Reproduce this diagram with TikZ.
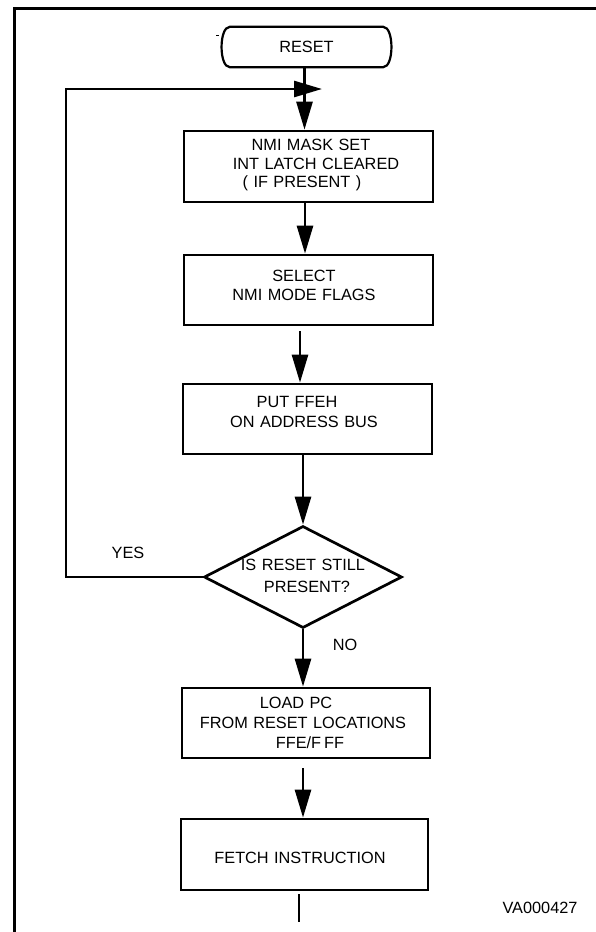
\documentclass[tikz,border=0pt]{standalone}
\usepackage{fontspec}
\setmainfont{Liberation Sans}
\usetikzlibrary{arrows.meta,shapes.geometric}
\begin{document}
\begin{tikzpicture}[x=1pt,y=-1pt,
  ln/.style={line width=2.7pt},
  arr/.style={ln,-{Triangle[length=28pt,width=16pt]}},
  box/.style={draw,line width=2.7pt,rectangle,inner sep=0pt,minimum width=249pt,minimum height=71pt},
  txt/.style={inner sep=0pt,align=center,text width=240pt,font=\fontsize{16.3}{19.5}\selectfont},
  lbl/.style={inner sep=0pt,font=\fontsize{16.3}{19.5}\selectfont},
  term/.style={inner sep=0pt,minimum width=169pt,minimum height=40pt,font=\fontsize{16.3}{19.5}\selectfont}
]
\useasboundingbox (0,0) rectangle (596,932);
\fill[white] (0,0) rectangle (596,932);
% frame
\draw[line width=3pt] (14,940) -- (14,8) -- (600,8);
% stray mark
\draw[line width=0.8pt] (216,35) -- (219,35);

% terminal
\node[term] (reset) at (306.5,47) {\raisebox{-2pt}{RESET}};
\draw[line width=2.2pt] ([xshift=8pt]reset.north west) -- ([xshift=-8pt]reset.north east)
  .. controls ([xshift=3pt]reset.north east) and ([xshift=3pt]reset.south east) .. ([xshift=-8pt]reset.south east)
  -- ([xshift=8pt]reset.south west)
  .. controls ([xshift=-3pt]reset.south west) and ([xshift=-3pt]reset.north west) .. cycle;

% boxes
\node[box] (b1) at (308.5,166.5) {};
\node[box,minimum height=70pt] (b2) at (308.5,290) {};
\node[box,minimum height=70pt] (b3) at (307.5,419) {};
\node[draw,line width=2.7pt,diamond,inner sep=0pt,minimum width=198pt,minimum height=102pt] (dia) at (303,577) {};
\node[box,minimum width=248pt,minimum height=70pt] (b5) at (306,723) {};
\node[box,minimum width=247pt] (b6) at (304.5,854.5) {};

% texts
\node[txt,font=\fontsize{16.3}{18.5}\selectfont] (b1t) at (308,165.2)
  {\hspace*{6pt}NMI MASK SET\\\hspace*{16pt}INT LATCH CLEARED\\( IF PRESENT )\kern12pt};
\node[txt,font=\fontsize{16.3}{19}\selectfont] (b2t) at (304,285.5) {SELECT\\NMI MODE FLAGS};
\node[txt,font=\fontsize{16.3}{20}\selectfont] (b3t) at (300.5,412) {PUT FFEH\kern7pt\\\hspace*{7pt}ON ADDRESS BUS};
\node[txt,font=\fontsize{16.3}{22}\selectfont] (diat) at (305,576) {IS RESET STILL\kern4pt\\\hspace*{4pt}PRESENT?};
\node[txt,font=\fontsize{16.3}{20}\selectfont] (b5t) at (303,723) {LOAD PC\kern14pt\\FROM RESET LOCATIONS\\\hspace*{14pt}FFE/F\hspace{3pt}FF};
\node[txt] (b6t) at (300,858) {FETCH INSTRUCTION};
\node[lbl] (yes) at (128,553) {YES};
\node[lbl] (no) at (345,645) {NO};
\node[lbl] (va) at (540,908) {VA000427};

% connectors
\coordinate (loopcorner) at (66,89);
\coordinate (looptip) at (322,89);
\coordinate (outend) at (299,922);
\draw[arr] ([xshift=-2pt]reset.south) -- ([xshift=-4pt]b1.north);
\draw[arr] (dia.west) -| (loopcorner) -- (looptip);
\draw[arr] ([xshift=-3.5pt]b1.south) -- ([xshift=-3.5pt]b2.north);
\draw[arr] ([xshift=-8.5pt,yshift=-5pt]b2.south) -- ([xshift=-7.5pt]b3.north);
\draw[arr] (b3.south -| dia.north) -- (dia.north);
\draw[arr] (dia.south) -- (dia.south |- b5.north);
\draw[arr] ([xshift=-3pt,yshift=-9pt]b5.south) -- ([xshift=-1.5pt]b6.north);
\draw[ln] ([xshift=-5.5pt,yshift=-3pt]b6.south) -- (outend);
\end{tikzpicture}
\end{document}
